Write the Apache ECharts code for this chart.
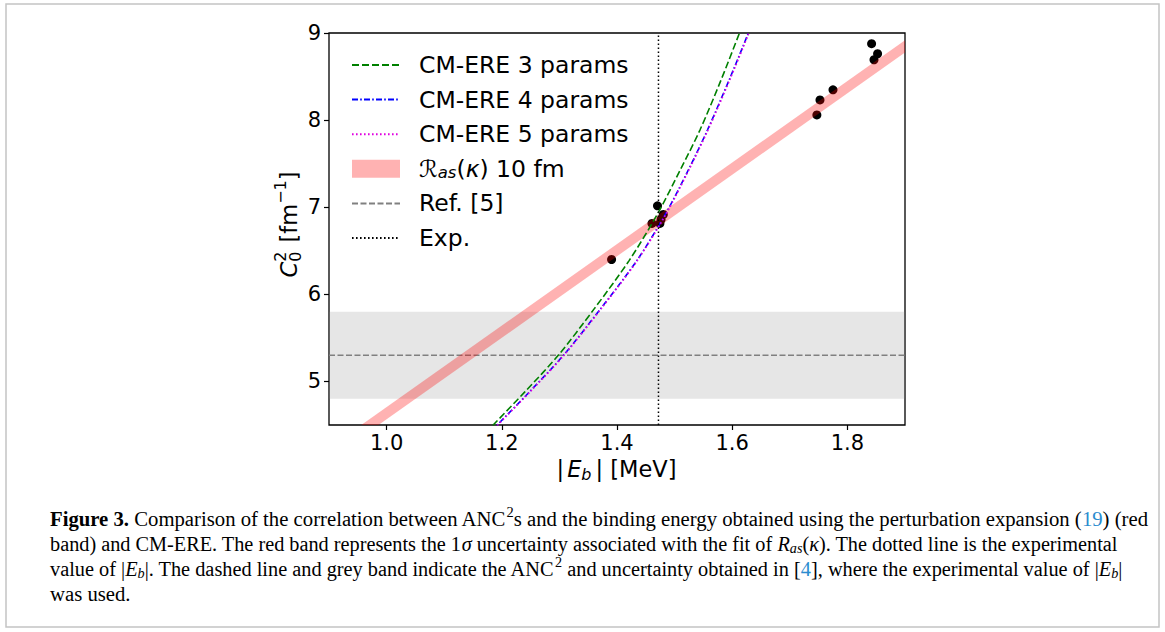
<!DOCTYPE html>
<html><head><meta charset="utf-8">
<script src="https://cdn.jsdelivr.net/npm/echarts@6/dist/echarts.min.js"></script>
<style>html,body{margin:0;padding:0;background:#fff}#c{width:1165px;height:632px}</style>
</head><body><div id="c"></div>
<script>
// ---- data ----
const xTicks = [1.0, 1.2, 1.4, 1.6, 1.8];
const yTicks = [5, 6, 7, 8, 9];
const cm3X = [1.160, 1.185, 1.240, 1.298, 1.360, 1.4213, 1.470, 1.510, 1.544, 1.580, 1.6126, 1.630];
const cm3Y = [4.33, 4.50, 4.88, 5.30, 5.83, 6.39, 6.92, 7.43, 7.886, 8.45, 9.00, 9.30];
const cm4X = [1.167, 1.192, 1.248, 1.307, 1.371, 1.4347, 1.484, 1.524, 1.557, 1.594, 1.628, 1.645];
const cm4Y = [4.33, 4.50, 4.88, 5.30, 5.83, 6.39, 6.92, 7.43, 7.886, 8.45, 9.00, 9.30];
const cm5X = [1.168, 1.193, 1.249, 1.308, 1.372, 1.4355, 1.485, 1.525, 1.558, 1.595, 1.629, 1.646];
const cm5Y = [4.33, 4.50, 4.88, 5.30, 5.83, 6.39, 6.92, 7.43, 7.886, 8.45, 9.00, 9.30];
const bandX = [0.90, 1.90];
const bandLo = [4.098, 8.776];
const bandHi = [4.238, 8.916];
const refX = [0.90, 1.90];
const refY = [5.30, 5.30];
const refLo = 4.80, refHi = 5.80;
const expX = [1.472, 1.472];
const expY = [4.50, 9.00];
const ptsX = [1.3906, 1.4607, 1.4745, 1.4765, 1.4703, 1.4804, 1.747, 1.7524, 1.775, 1.8462, 1.8524, 1.842];
const ptsY = [6.40, 6.814, 6.814, 6.86, 7.016, 6.917, 8.059, 8.232, 8.348, 8.693, 8.762, 8.877];

const names = ['CM-ERE 3 params', 'CM-ERE 4 params', 'CM-ERE 5 params', 'Ras(κ) 10 fm', 'Ref. [5]', 'Exp.'];

// ---- helpers ----
const zip = (a, b) => a.map((v, i) => [v, b[i]]);
const mctx = document.createElement('canvas').getContext('2d');
function tw(text, font) { mctx.font = font; return mctx.measureText(text).width; }

const SANS = '"DejaVu Sans"';
const SERIF = '"Liberation Serif"';

function run(pieces, cx, cy, rotation) {
  let x = 0; const kids = [];
  pieces.forEach(p => {
    kids.push({type: 'text', x: x + (p.dx || 0), y: p.dy || 0,
      style: {text: p.t, font: p.f, fill: '#000', align: 'left', verticalAlign: 'middle'}});
    if (!p.noAdv) x += tw(p.t, p.f) + (p.dx || 0) + (p.gap || 0);
  });
  kids.forEach(k => k.x -= x / 2);
  return {type: 'group', x: cx, y: cy, rotation: rotation || 0, children: kids, silent: true};
}

const F22 = '22.5px ' + SANS, I22 = 'italic 22.5px ' + SANS, F16 = '16px ' + SANS, I16 = 'italic 16px ' + SANS;
const yTitle = run([
  {t: 'C', f: I22, gap: 0},
  {t: '0', f: F16, dy: 6, noAdv: true},
  {t: '2', f: F16, dy: -9, gap: 2},
  {t: ' [fm', f: F22},
  {t: '−1', f: F16, dy: -9},
  {t: ']', f: F22}
], 289, 224.5, Math.PI / 2);
const xTitle = run([
  {t: '|', f: F22, gap: 3},
  {t: 'E', f: I22},
  {t: 'b', f: I16, dy: 5, gap: 4},
  {t: '|', f: F22},
  {t: ' [MeV]', f: F22}
], 616.5, 469, 0);

// caption
const CS = 20;
const capFonts = {
  r: CS + 'px ' + SERIF, b: 'bold ' + CS + 'px ' + SERIF, i: 'italic ' + CS + 'px ' + SERIF,
  sup: '14px ' + SERIF, sub: 'italic 14px ' + SERIF, l: CS + 'px ' + SERIF
};
const capRich = {
  b: {font: capFonts.b}, i: {font: capFonts.i},
  sup: {font: capFonts.sup, padding: [0, 0, 13, 0]},
  sub: {font: capFonts.sub, padding: [8, 0, 0, 0]},
  l: {font: capFonts.l, fill: '#2b8ccf'}
};
const capLines = [
  [['b', 'Figure 3.'], ['r', ' Comparison of the correlation between ANC'], ['sup', '2'], ['r', 's and the binding energy obtained using the perturbation expansion ('], ['l', '19'], ['r', ') (red']],
  [['r', 'band) and CM-ERE. The red band represents the 1'], ['i', 'σ'], ['r', ' uncertainty associated with the fit of '], ['i', 'R'], ['sub', 'as'], ['r', '('], ['i', 'κ'], ['r', '). The dotted line is the experimental']],
  [['r', 'value of |'], ['i', 'E'], ['sub', 'b'], ['r', '|. The dashed line and grey band indicate the ANC'], ['sup', '2'], ['r', ' and uncertainty obtained in ['], ['l', '4'], ['r', '], where the experimental value of |'], ['i', 'E'], ['sub', 'b'], ['r', '|']],
  [['r', 'was used.']]
];
const capTargets = [1098, 1068, 1072, null];
const capY = [519, 544, 569, 594];
let firstScale = 1;
const capEls = capLines.map((segs, k) => {
  const w = segs.reduce((s, [st, t]) => s + tw(t, capFonts[st]), 0);
  const str = segs.map(([st, t]) => st === 'r' ? t : '{' + st + '|' + t + '}').join('');
  let sc = capTargets[k] ? capTargets[k] / w : firstScale;
  if (k === 0) firstScale = sc;
  return {type: 'text', x: 50, y: capY[k], scaleX: sc, silent: true,
    style: {text: str, font: capFonts.r, fill: '#000', rich: capRich, align: 'left', verticalAlign: 'middle'}};
});

// ---- chart ----
const chart = echarts.init(document.getElementById('c'), null, {renderer: 'svg'});
const dashGreen = [7, 3], dashDot = [6, 2.2, 1.6, 2.2], dots = [1.6, 2.4];
const BAND = 'rgba(255,0,0,0.3)';

chart.setOption({
  animation: false,
  backgroundColor: '#fff',
  grid: {left: 329, top: 33, width: 576, height: 392, show: true, borderColor: '#000', borderWidth: 1.3, backgroundColor: 'transparent'},
  xAxis: {type: 'value', min: 0.9, max: 1.9,
    axisLine: {show: false}, splitLine: {show: false},
    axisTick: {show: true, customValues: xTicks, length: 5, inside: false, lineStyle: {color: '#000', width: 1.2}},
    axisLabel: {customValues: xTicks, formatter: v => v.toFixed(1), margin: 7, fontSize: 21, fontFamily: 'DejaVu Sans', color: '#000'}},
  yAxis: {type: 'value', min: 4.5, max: 9,
    axisLine: {show: false}, splitLine: {show: false},
    axisTick: {show: true, customValues: yTicks, length: 5, inside: false, lineStyle: {color: '#000', width: 1.2}},
    axisLabel: {customValues: yTicks, formatter: v => String(Math.round(v)), margin: 8, fontSize: 21, fontFamily: 'DejaVu Sans', color: '#000'}},
  legend: {
    orient: 'vertical', left: 351, top: 53, padding: 0, itemWidth: 48, itemHeight: 18, itemGap: 10.6,
    selectedMode: false,
    itemStyle: {opacity: 0},
    textStyle: {fontSize: 23.5, fontFamily: 'DejaVu Sans', color: '#000', padding: [0, 0, 0, 14],
      rich: {sub: {fontSize: 16.5, fontStyle: 'italic', padding: [7, 0, 0, 0]}, i: {fontSize: 23.5, fontStyle: 'italic'}}},
    formatter: n => n === names[3] ? 'ℛ{sub|as}({i|κ}) 10 fm' : n,
    data: [
      {name: names[0]}, {name: names[1]}, {name: names[2]},
      {name: names[3], icon: 'rect', itemStyle: {opacity: 1, color: BAND}},
      {name: names[4]}, {name: names[5]}
    ]
  },
  graphic: [
    {type: 'rect', shape: {x: 6, y: 4, width: 1153, height: 623}, style: {fill: 'none', stroke: '#c4c4c4', lineWidth: 1.5}, silent: true, z: -10},
    yTitle, xTitle, ...capEls
  ],
  series: [
    {type: 'line', name: names[4], data: zip(refX, refY), symbol: 'none', z: 3,
      lineStyle: {color: '#808080', width: 1.5, type: [6, 2.5]}, color: '#808080',
      markArea: {silent: true, itemStyle: {color: 'rgba(128,128,128,0.2)'}, data: [[{yAxis: refLo}, {yAxis: refHi}]]}},
    {type: 'scatter', name: 'points', data: zip(ptsX, ptsY), symbolSize: 9, itemStyle: {color: '#000', opacity: 1}, z: 4},
    {type: 'custom', name: names[3], coordinateSystem: 'cartesian2d', z: 5,
      data: bandX.map((x, i) => [x, bandLo[i], bandHi[i]]),
      encode: {x: 0, y: [1, 2]},
      itemStyle: {color: BAND},
      renderItem: (params, api) => {
        if (params.dataIndex !== 0) return;
        const up = bandX.map((x, i) => api.coord([x, bandHi[i]]));
        const lo = bandX.map((x, i) => api.coord([x, bandLo[i]])).reverse();
        const cs = params.coordSys;
        return {type: 'polygon', shape: {points: up.concat(lo)}, style: {fill: BAND},
          clipPath: {type: 'rect', shape: {x: cs.x, y: cs.y, width: cs.width, height: cs.height}}};
      }},
    {type: 'line', name: names[0], data: zip(cm3X, cm3Y), symbol: 'none', smooth: 0.3, z: 6, color: '#008000',
      lineStyle: {color: '#008000', width: 1.6, type: dashGreen}},
    {type: 'line', name: names[1], data: zip(cm4X, cm4Y), symbol: 'none', smooth: 0.3, z: 6, color: '#0000ff',
      lineStyle: {color: '#0000ff', width: 1.6, type: dashDot}},
    {type: 'line', name: names[2], data: zip(cm5X, cm5Y), symbol: 'none', smooth: 0.3, z: 7, color: '#e000e0',
      lineStyle: {color: '#e000e0', width: 1.6, type: dots}},
    {type: 'line', name: names[5], data: zip(expX, expY), symbol: 'none', z: 7, color: '#000',
      lineStyle: {color: '#000', width: 1.5, type: dots}}
  ]
});
</script></body></html>
